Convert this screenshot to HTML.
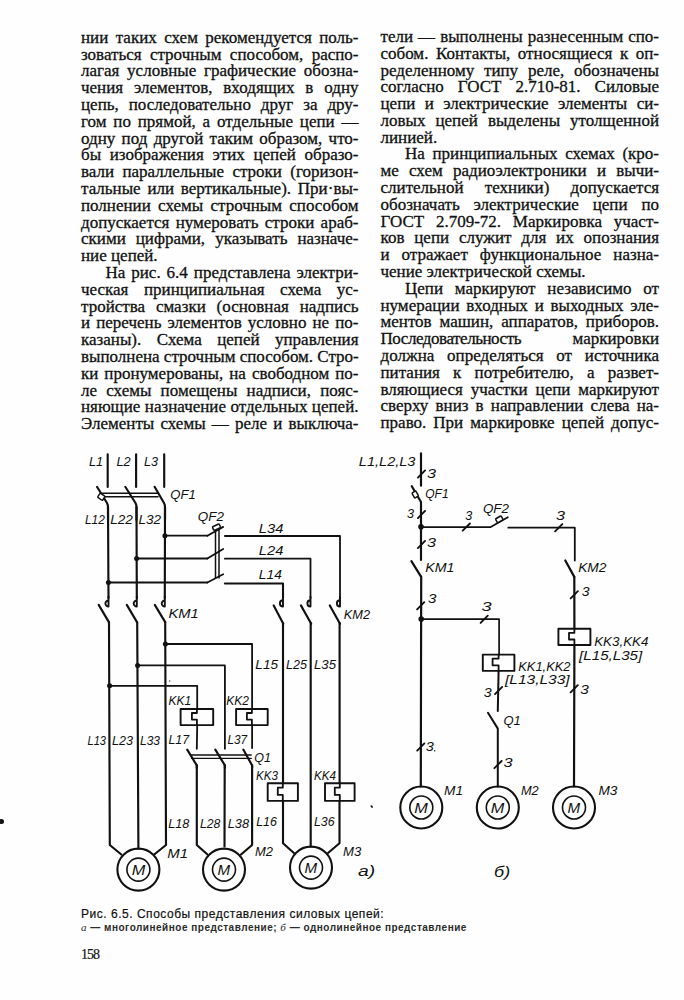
<!DOCTYPE html>
<html><head><meta charset="utf-8">
<style>
html,body{margin:0;padding:0;}
body{width:684px;height:1000px;background:#fdfefd;position:relative;overflow:hidden;color:#111;}
.ln{position:absolute;left:0;width:684px;height:16.76px;font-family:"Liberation Serif",serif;font-size:17px;line-height:19.147px;-webkit-text-stroke:0.2px #111;}
.ln span{position:absolute;top:0;white-space:nowrap;}
.jl{position:absolute;height:16.76px;font-family:"Liberation Serif",serif;font-size:17px;line-height:19.147px;white-space:nowrap;text-align:justify;text-align-last:justify;-webkit-text-stroke:0.3px #111;}
.jl.last{text-align:left;text-align-last:left;}
.cap{position:absolute;font-family:"Liberation Sans",sans-serif;white-space:nowrap;color:#111;}
svg{position:absolute;left:0;top:0;}
</style></head><body>
<div class="jl" style="top:27.75px;left:81.00px;width:277.50px;letter-spacing:0.000px">нии таких схем рекомендуется поль-</div>
<div class="jl" style="top:44.55px;left:81.00px;width:277.50px;letter-spacing:0.000px">зоваться строчным способом, распо-</div>
<div class="jl" style="top:61.35px;left:81.00px;width:277.50px;letter-spacing:0.000px">лагая условные графические обозна-</div>
<div class="jl" style="top:78.15px;left:81.00px;width:277.50px;letter-spacing:0.000px">чения элементов, входящих в одну</div>
<div class="jl" style="top:94.95px;left:81.00px;width:277.50px;letter-spacing:0.000px">цепь, последовательно друг за дру-</div>
<div class="jl" style="top:111.75px;left:81.00px;width:277.50px;letter-spacing:0.000px">гом по прямой, а отдельные цепи —</div>
<div class="jl" style="top:128.55px;left:81.00px;width:277.50px;letter-spacing:0.000px">одну под другой таким образом, что-</div>
<div class="jl" style="top:145.35px;left:81.00px;width:277.50px;letter-spacing:0.000px">бы изображения этих цепей образо-</div>
<div class="jl" style="top:162.15px;left:81.00px;width:277.50px;letter-spacing:0.000px">вали параллельные строки (горизон-</div>
<div class="jl" style="top:178.95px;left:81.00px;width:277.50px;letter-spacing:0.000px">тальные или вертикальные). При·вы-</div>
<div class="jl" style="top:195.75px;left:81.00px;width:277.50px;letter-spacing:0.000px">полнении схемы строчным способом</div>
<div class="jl" style="top:212.55px;left:81.00px;width:277.50px;letter-spacing:0.000px">допускается нумеровать строки араб-</div>
<div class="jl" style="top:229.35px;left:81.00px;width:277.50px;letter-spacing:0.000px">скими цифрами, указывать назначе-</div>
<div class="jl last" style="top:246.15px;left:81.00px;width:277.50px;letter-spacing:0.000px">ние цепей.</div>
<div class="jl" style="top:262.95px;left:105.50px;width:253.00px;letter-spacing:0.000px">На рис. 6.4 представлена электри-</div>
<div class="jl" style="top:279.75px;left:81.00px;width:277.50px;letter-spacing:0.000px">ческая принципиальная схема ус-</div>
<div class="jl" style="top:296.55px;left:81.00px;width:277.50px;letter-spacing:0.000px">тройства смазки (основная надпись</div>
<div class="jl" style="top:313.35px;left:81.00px;width:277.50px;letter-spacing:0.000px">и перечень элементов условно не по-</div>
<div class="jl" style="top:330.15px;left:81.00px;width:277.50px;letter-spacing:0.000px">казаны). Схема цепей управления</div>
<div class="jl" style="top:346.95px;left:81.00px;width:277.50px;letter-spacing:0.000px">выполнена строчным способом. Стро-</div>
<div class="jl" style="top:363.75px;left:81.00px;width:277.50px;letter-spacing:0.000px">ки пронумерованы, на свободном по-</div>
<div class="jl" style="top:380.55px;left:81.00px;width:277.50px;letter-spacing:0.000px">ле схемы помещены надписи, пояс-</div>
<div class="jl" style="top:397.35px;left:81.00px;width:277.50px;letter-spacing:0.000px">няющие назначение отдельных цепей.</div>
<div class="jl" style="top:414.15px;left:81.00px;width:277.50px;letter-spacing:0.000px">Элементы схемы — реле и выключа-</div>
<div class="jl" style="top:26.95px;left:380.50px;width:278.50px;letter-spacing:0.000px">тели — выполнены разнесенным спо-</div>
<div class="jl" style="top:43.74px;left:380.50px;width:278.50px;letter-spacing:0.000px">собом. Контакты, относящиеся к оп-</div>
<div class="jl" style="top:60.53px;left:380.50px;width:278.50px;letter-spacing:0.000px">ределенному типу реле, обозначены</div>
<div class="jl" style="top:77.32px;left:380.50px;width:278.50px;letter-spacing:0.000px">согласно ГОСТ 2.710-81. Силовые</div>
<div class="jl" style="top:94.11px;left:380.50px;width:278.50px;letter-spacing:0.000px">цепи и электрические элементы си-</div>
<div class="jl" style="top:110.90px;left:380.50px;width:278.50px;letter-spacing:0.000px">ловых цепей выделены утолщенной</div>
<div class="jl last" style="top:127.69px;left:380.50px;width:278.50px;letter-spacing:0.000px">линией.</div>
<div class="jl" style="top:144.48px;left:405.00px;width:254.00px;letter-spacing:0.000px">На принципиальных схемах (кро-</div>
<div class="jl" style="top:161.27px;left:380.50px;width:278.50px;letter-spacing:0.000px">ме схем радиоэлектроники и вычи-</div>
<div class="jl" style="top:178.06px;left:380.50px;width:278.50px;letter-spacing:0.000px">слительной техники) допускается</div>
<div class="jl" style="top:194.85px;left:380.50px;width:278.50px;letter-spacing:0.000px">обозначать электрические цепи по</div>
<div class="jl" style="top:211.64px;left:380.50px;width:278.50px;letter-spacing:0.000px">ГОСТ 2.709-72. Маркировка участ-</div>
<div class="jl" style="top:228.43px;left:380.50px;width:278.50px;letter-spacing:0.000px">ков цепи служит для их опознания</div>
<div class="jl" style="top:245.22px;left:380.50px;width:278.50px;letter-spacing:0.000px">и отражает функциональное назна-</div>
<div class="jl last" style="top:262.01px;left:380.50px;width:278.50px;letter-spacing:0.000px">чение электрической схемы.</div>
<div class="jl" style="top:278.80px;left:405.00px;width:254.00px;letter-spacing:0.000px">Цепи маркируют независимо от</div>
<div class="jl" style="top:295.59px;left:380.50px;width:278.50px;letter-spacing:0.000px">нумерации входных и выходных эле-</div>
<div class="jl" style="top:312.38px;left:380.50px;width:278.50px;letter-spacing:0.000px">ментов машин, аппаратов, приборов.</div>
<div class="jl" style="top:329.17px;left:380.50px;width:278.50px;letter-spacing:0.000px"><span style="letter-spacing:-0.45px">Последовательность</span> маркировки</div>
<div class="jl" style="top:345.96px;left:380.50px;width:278.50px;letter-spacing:0.000px">должна определяться от источника</div>
<div class="jl" style="top:362.75px;left:380.50px;width:278.50px;letter-spacing:0.000px">питания к потребителю, а развет-</div>
<div class="jl" style="top:379.54px;left:380.50px;width:278.50px;letter-spacing:0.000px">вляющиеся участки цепи маркируют</div>
<div class="jl" style="top:396.33px;left:380.50px;width:278.50px;letter-spacing:0.000px">сверху вниз в направлении слева на-</div>
<div class="jl" style="top:413.12px;left:380.50px;width:278.50px;letter-spacing:0.000px">право. При маркировке цепей допус-</div>
<svg width="684" height="1000" viewBox="0 0 684 1000" stroke="#111" stroke-linecap="round" stroke-linejoin="round" font-family="Liberation Sans, sans-serif" font-style="italic" fill="#111"><line x1="107.7" y1="454.4" x2="107.7" y2="487" stroke-width="2.15"/>
<line x1="136.1" y1="454.4" x2="136.1" y2="487" stroke-width="2.15"/>
<line x1="164.2" y1="454.4" x2="164.2" y2="487" stroke-width="2.15"/>
<text stroke="none" id="lab_L1" x="88.88" y="466.1" font-size="13" textLength="14.23" lengthAdjust="spacingAndGlyphs">L1</text>
<text stroke="none" id="lab_L2" x="116.44" y="466.1" font-size="13" textLength="14.28" lengthAdjust="spacingAndGlyphs">L2</text>
<text stroke="none" id="lab_L3" x="144.00" y="466.1" font-size="13" textLength="14.00" lengthAdjust="spacingAndGlyphs">L3</text>
<path d="M97,486.8 L107,503 Q108,505 108,507 V520" stroke-width="2.15" fill="none"/>
<path d="M125.3,486.8 L135.5,503 Q136.5,505 136.5,507 V520" stroke-width="2.15" fill="none"/>
<path d="M154.6,486.8 L164,503 Q165,505 165,507 V520" stroke-width="2.15" fill="none"/>
<line x1="101" y1="493.2" x2="158" y2="493.2" stroke-width="1.5"/>
<line x1="101" y1="496.7" x2="158" y2="496.7" stroke-width="1.5"/>
<rect x="98.30" y="494.30" width="6" height="5" rx="1" transform="rotate(35 101.3 496.8)" stroke-width="1.5" fill="#fdfefd"/>
<text stroke="none" id="lab_QF1a" x="170.22" y="499.1" font-size="13" textLength="25.47" lengthAdjust="spacingAndGlyphs">QF1</text>
<text stroke="none" id="lab_L12" x="84.94" y="523.7" font-size="13" textLength="19.90" lengthAdjust="spacingAndGlyphs">L12</text>
<text stroke="none" id="lab_L22" x="110.16" y="523.7" font-size="13" textLength="22.65" lengthAdjust="spacingAndGlyphs">L22</text>
<text stroke="none" id="lab_L32" x="138.44" y="523.7" font-size="13" textLength="22.65" lengthAdjust="spacingAndGlyphs">L32</text>
<line x1="108" y1="507" x2="108.5" y2="598" stroke-width="2.15"/>
<line x1="136.5" y1="507" x2="136.8" y2="598" stroke-width="2.15"/>
<line x1="165" y1="507" x2="164.8" y2="598" stroke-width="2.15"/>
<circle cx="164.9" cy="535.7" r="2.5" fill="#111" stroke="none"/>
<line x1="164.9" y1="535.7" x2="207.4" y2="535.7" stroke-width="1.8"/>
<line x1="207.4" y1="535.7" x2="223.2" y2="526.9" stroke-width="1.8"/>
<circle cx="136.6" cy="558.5" r="2.5" fill="#111" stroke="none"/>
<line x1="136.6" y1="558.5" x2="207.4" y2="558.5" stroke-width="1.8"/>
<line x1="207.4" y1="558.5" x2="223.2" y2="548.9" stroke-width="1.8"/>
<circle cx="108.4" cy="582.5" r="2.5" fill="#111" stroke="none"/>
<line x1="108.4" y1="582.5" x2="207.4" y2="582.5" stroke-width="1.8"/>
<line x1="207.4" y1="582.5" x2="223.2" y2="574.3" stroke-width="1.8"/>
<line x1="215.5" y1="528" x2="215.5" y2="578" stroke-width="1.5"/>
<line x1="219" y1="528" x2="219" y2="578" stroke-width="1.5"/>
<rect x="212.75" y="525.20" width="7.5" height="4" rx="1" transform="rotate(-25 216.5 527.2)" stroke-width="1.5" fill="#fdfefd"/>
<text stroke="none" id="lab_QF2a" x="197.88" y="520.8" font-size="13" textLength="26.14" lengthAdjust="spacingAndGlyphs">QF2</text>
<path d="M224.9,536 H340 V598" stroke-width="1.8" fill="none"/>
<path d="M224.9,558.7 H310.5 V598" stroke-width="1.8" fill="none"/>
<path d="M224.9,583.5 H283 V598" stroke-width="2.1" fill="none"/>
<text stroke="none" id="lab_L34" x="258.88" y="532.5" font-size="13" textLength="24.61" lengthAdjust="spacingAndGlyphs">L34</text>
<text stroke="none" id="lab_L24" x="258.88" y="554.5" font-size="13" textLength="24.61" lengthAdjust="spacingAndGlyphs">L24</text>
<text stroke="none" id="lab_L14" x="258.88" y="579" font-size="13" textLength="22.94" lengthAdjust="spacingAndGlyphs">L14</text>
<path d="M108.5,596.8 V606.5999999999999 A3.1,3.1 0 1 1 108.5,600.4" stroke-width="1.9" fill="none"/>
<path d="M136.8,596.8 V606.5999999999999 A3.1,3.1 0 1 1 136.8,600.4" stroke-width="1.9" fill="none"/>
<path d="M164.8,596.8 V606.5999999999999 A3.1,3.1 0 1 1 164.8,600.4" stroke-width="1.9" fill="none"/>
<line x1="98.7" y1="604.9" x2="108.9" y2="622.1" stroke-width="2.15"/>
<line x1="126.8" y1="604.9" x2="137" y2="622.1" stroke-width="2.15"/>
<line x1="154.8" y1="604.9" x2="165.2" y2="622.1" stroke-width="2.15"/>
<text stroke="none" id="lab_KM1a" x="168.44" y="618" font-size="13" textLength="30.40" lengthAdjust="spacingAndGlyphs">KM1</text>
<path d="M283,596.7 V606.5 A3.1,3.1 0 1 1 283,600.3000000000001" stroke-width="1.9" fill="none"/>
<path d="M310.5,596.7 V606.5 A3.1,3.1 0 1 1 310.5,600.3000000000001" stroke-width="1.9" fill="none"/>
<path d="M340,596.7 V606.5 A3.1,3.1 0 1 1 340,600.3000000000001" stroke-width="1.9" fill="none"/>
<line x1="273.7" y1="605.4" x2="283.3" y2="623.8" stroke-width="2.15"/>
<line x1="300.9" y1="605.4" x2="311.2" y2="623.8" stroke-width="2.15"/>
<line x1="329.8" y1="605.4" x2="340" y2="623.8" stroke-width="2.15"/>
<text stroke="none" id="lab_KM2a" x="343.72" y="618.5" font-size="13" textLength="26.28" lengthAdjust="spacingAndGlyphs">KM2</text>
<path d="M109,622 L109.8,845 L121.3,854.5" stroke-width="2.15" fill="none"/>
<line x1="137.2" y1="622" x2="138.4" y2="848.5" stroke-width="2.15"/>
<path d="M165.2,622 L166,845 L154.2,854.5" stroke-width="2.15" fill="none"/>
<text stroke="none" id="lab_L13" x="87.50" y="745" font-size="13" textLength="18.51" lengthAdjust="spacingAndGlyphs">L13</text>
<text stroke="none" id="lab_L23" x="112.00" y="745" font-size="13" textLength="21.00" lengthAdjust="spacingAndGlyphs">L23</text>
<text stroke="none" id="lab_L33" x="140.00" y="745" font-size="13" textLength="20.00" lengthAdjust="spacingAndGlyphs">L33</text>
<circle cx="165.4" cy="644" r="2.5" fill="#111" stroke="none"/>
<path d="M165.4,644 H252.1 V709" stroke-width="1.8" fill="none"/>
<circle cx="137.6" cy="665.4" r="2.5" fill="#111" stroke="none"/>
<path d="M137.6,665.4 H224.9 V748.8" stroke-width="1.8" fill="none"/>
<circle cx="109.6" cy="685.8" r="2.5" fill="#111" stroke="none"/>
<path d="M109.6,685.8 H197.2 V709" stroke-width="1.8" fill="none"/>
<rect x="180.6" y="709" width="32.60" height="16.10" stroke-width="1.9" fill="none"/>
<path d="M196.9,709 V713.0 H191.9 V719.6 H196.9 V725.1" stroke-width="1.8" fill="none"/>
<rect x="236.1" y="709" width="31.60" height="16.10" stroke-width="1.9" fill="none"/>
<path d="M251.9,709 V713.0 H246.9 V719.6 H251.9 V725.1" stroke-width="1.8" fill="none"/>
<line x1="197.2" y1="725.1" x2="196.8" y2="748.8" stroke-width="1.8"/>
<line x1="252.1" y1="725.1" x2="252.1" y2="748" stroke-width="1.8"/>
<text stroke="none" id="lab_KK1" x="168.44" y="704.9" font-size="13" textLength="22.65" lengthAdjust="spacingAndGlyphs">KK1</text>
<text stroke="none" id="lab_KK2" x="226.16" y="704.9" font-size="13" textLength="22.65" lengthAdjust="spacingAndGlyphs">KK2</text>
<text stroke="none" id="lab_L17" x="168.44" y="744.4" font-size="13" textLength="20.61" lengthAdjust="spacingAndGlyphs">L17</text>
<text stroke="none" id="lab_L37" x="227.50" y="744.4" font-size="13" textLength="19.68" lengthAdjust="spacingAndGlyphs">L37</text>
<text stroke="none" id="lab_L15" x="255.38" y="668.8" font-size="13" textLength="22.65" lengthAdjust="spacingAndGlyphs">L15</text>
<text stroke="none" id="lab_L25" x="286.00" y="668.8" font-size="13" textLength="21.00" lengthAdjust="spacingAndGlyphs">L25</text>
<text stroke="none" id="lab_L35" x="314.00" y="668.8" font-size="13" textLength="22.00" lengthAdjust="spacingAndGlyphs">L35</text>
<path d="M187.2,749.6 L196.8,765.4 V768" stroke-width="2.15" fill="none"/>
<path d="M215.3,749.6 L224.9,765.4 V768" stroke-width="2.15" fill="none"/>
<path d="M243.3,749.6 L252.1,765.4 V768" stroke-width="2.15" fill="none"/>
<line x1="191.6" y1="755" x2="251.2" y2="755" stroke-width="1.4"/>
<line x1="191.6" y1="758.4" x2="251.2" y2="758.4" stroke-width="1.4"/>
<text stroke="none" id="lab_Q1a" x="254.16" y="761.9" font-size="13" textLength="16.67" lengthAdjust="spacingAndGlyphs">Q1</text>
<path d="M196.8,765 V845 L207.5,854.5" stroke-width="2.15" fill="none"/>
<line x1="224.7" y1="765" x2="224.5" y2="846.5" stroke-width="2.15"/>
<path d="M252.1,765 V845 L241,854.5" stroke-width="2.15" fill="none"/>
<text stroke="none" id="lab_L28" x="200.00" y="828.2" font-size="13" textLength="20.44" lengthAdjust="spacingAndGlyphs">L28</text>
<text stroke="none" id="lab_L38" x="227.72" y="828.2" font-size="13" textLength="21.28" lengthAdjust="spacingAndGlyphs">L38</text>
<text stroke="none" id="lab_L16" x="256.16" y="825.8" font-size="13" textLength="20.73" lengthAdjust="spacingAndGlyphs">L16</text>
<line x1="283" y1="623" x2="283" y2="783.3" stroke-width="2.15"/>
<line x1="310.7" y1="623" x2="310.7" y2="846.5" stroke-width="2.15"/>
<line x1="339.6" y1="623" x2="339.6" y2="783.3" stroke-width="2.15"/>
<rect x="267.7" y="783.3" width="30.20" height="17.60" stroke-width="1.9" fill="none"/>
<path d="M282.8,783.3 V787.7 H277.8 V794.9 H282.8 V800.9" stroke-width="1.8" fill="none"/>
<rect x="325.0" y="783.3" width="29.60" height="17.60" stroke-width="1.9" fill="none"/>
<path d="M339.8,783.3 V787.7 H334.8 V794.9 H339.8 V800.9" stroke-width="1.8" fill="none"/>
<path d="M283,800.9 V843.3 L293.9,853" stroke-width="2.15" fill="none"/>
<path d="M339.5,800.9 V843.3 L328,853" stroke-width="2.15" fill="none"/>
<text stroke="none" id="lab_KK3" x="256.00" y="779.6" font-size="13" textLength="22.00" lengthAdjust="spacingAndGlyphs">KK3</text>
<text stroke="none" id="lab_KK4" x="314.00" y="779.6" font-size="13" textLength="22.00" lengthAdjust="spacingAndGlyphs">KK4</text>
<text stroke="none" id="lab_L36" x="314.00" y="825.8" font-size="13" textLength="20.57" lengthAdjust="spacingAndGlyphs">L36</text>
<text stroke="none" id="lab_L18" x="168.16" y="828.2" font-size="13" textLength="21.00" lengthAdjust="spacingAndGlyphs">L18</text>
<circle cx="138.4" cy="869.6" r="21" stroke-width="2.1" fill="none"/>
<circle cx="138.4" cy="869.6" r="11.5" stroke-width="1.6" fill="none"/>
<text stroke="none" id="lab_Ma1" x="131.65" y="875.0" font-size="14" textLength="13.57" lengthAdjust="spacingAndGlyphs">M</text>
<circle cx="224" cy="869.6" r="21" stroke-width="2.1" fill="none"/>
<circle cx="224" cy="869.6" r="11.5" stroke-width="1.6" fill="none"/>
<text stroke="none" id="lab_Ma2" x="217.43" y="875.0" font-size="14" textLength="12.62" lengthAdjust="spacingAndGlyphs">M</text>
<circle cx="311" cy="867.6" r="21" stroke-width="2.1" fill="none"/>
<circle cx="311" cy="867.6" r="11.5" stroke-width="1.6" fill="none"/>
<text stroke="none" id="lab_Ma3" x="304.43" y="873.0" font-size="14" textLength="12.62" lengthAdjust="spacingAndGlyphs">M</text>
<text stroke="none" id="lab_M1a" x="167.22" y="858.4" font-size="13" textLength="20.78" lengthAdjust="spacingAndGlyphs">M1</text>
<text stroke="none" id="lab_M2a" x="255.00" y="855.6" font-size="13" textLength="18.00" lengthAdjust="spacingAndGlyphs">M2</text>
<text stroke="none" id="lab_M3a" x="343.00" y="855.6" font-size="13" textLength="18.23" lengthAdjust="spacingAndGlyphs">M3</text>
<text stroke="none" id="lab_a" x="358.00" y="875.5" font-size="14" textLength="17.15" lengthAdjust="spacingAndGlyphs">a)</text>
<line x1="421" y1="453.4" x2="421" y2="485.7" stroke-width="2.2"/>
<text stroke="none" id="lab_L123" x="358.88" y="465.7" font-size="13" textLength="56.56" lengthAdjust="spacingAndGlyphs">L1,L2,L3</text>
<line x1="417.9" y1="477.6" x2="425.1" y2="470.4" stroke-width="1.9"/>
<text stroke="none" id="lab_t1" x="427.10" y="477.5" font-size="13" textLength="9.02" lengthAdjust="spacingAndGlyphs">3</text>
<path d="M411.8,486.2 L421,502 V560" stroke-width="2.2" fill="none"/>
<rect x="412.95" y="491.50" width="4.5" height="6" rx="1" transform="rotate(-30 415.2 494.5)" stroke-width="1.5" fill="#fdfefd"/>
<text stroke="none" id="lab_QF1b" x="425.22" y="497.6" font-size="13" textLength="23.36" lengthAdjust="spacingAndGlyphs">QF1</text>
<line x1="417.9" y1="518.1" x2="425.1" y2="510.9" stroke-width="1.9"/>
<text stroke="none" id="lab_t2" x="407.00" y="517.8" font-size="13" textLength="7.00" lengthAdjust="spacingAndGlyphs">3</text>
<circle cx="421" cy="526.8" r="2.8" fill="#111" stroke="none"/>
<path d="M421,527.2 H490.3 L507.8,517.2" stroke-width="1.8" fill="none"/>
<rect x="496.05" y="517.05" width="6.5" height="4.5" rx="1" transform="rotate(-30 499.3 519.3)" stroke-width="1.5" fill="#fdfefd"/>
<line x1="462.7" y1="530.7" x2="469.90000000000003" y2="523.5" stroke-width="1.9"/>
<text stroke="none" id="lab_t3" x="465.16" y="519.6" font-size="13" textLength="7.00" lengthAdjust="spacingAndGlyphs">3</text>
<text stroke="none" id="lab_QF2b" x="482.94" y="512.5" font-size="13" textLength="26.07" lengthAdjust="spacingAndGlyphs">QF2</text>
<path d="M508.3,527.7 H574.8 V560.5" stroke-width="1.8" fill="none"/>
<line x1="555.1" y1="531.3000000000001" x2="562.3000000000001" y2="524.1" stroke-width="1.9"/>
<text stroke="none" id="lab_t4" x="556.10" y="519.6" font-size="13" textLength="9.02" lengthAdjust="spacingAndGlyphs">3</text>
<line x1="417.9" y1="548.1" x2="425.1" y2="540.9" stroke-width="1.9"/>
<text stroke="none" id="lab_t5" x="427.10" y="546.8" font-size="13" textLength="9.02" lengthAdjust="spacingAndGlyphs">3</text>
<line x1="411.4" y1="561.1" x2="421" y2="576.6" stroke-width="2.2"/>
<text stroke="none" id="lab_KM1b" x="425.22" y="572.2" font-size="13" textLength="29.22" lengthAdjust="spacingAndGlyphs">KM1</text>
<line x1="565.3" y1="560.5" x2="574.3" y2="576.9" stroke-width="2.2"/>
<text stroke="none" id="lab_KM2b" x="578.16" y="572.2" font-size="13" textLength="28.28" lengthAdjust="spacingAndGlyphs">KM2</text>
<line x1="421.2" y1="576.6" x2="420.8" y2="786.5" stroke-width="2.2"/>
<line x1="417.09999999999997" y1="609.4" x2="424.3" y2="602.1999999999999" stroke-width="1.9"/>
<text stroke="none" id="lab_t6" x="428.10" y="603.3" font-size="13" textLength="8.40" lengthAdjust="spacingAndGlyphs">3</text>
<circle cx="421.2" cy="619.1" r="2.8" fill="#111" stroke="none"/>
<path d="M421.2,619.1 H499.1 V654.6" stroke-width="1.7" fill="none"/>
<line x1="480.59999999999997" y1="622.9" x2="487.8" y2="615.6999999999999" stroke-width="1.9"/>
<text stroke="none" id="lab_t7" x="481.60" y="611.2" font-size="13" textLength="10.12" lengthAdjust="spacingAndGlyphs">3</text>
<rect x="482.8" y="654.6" width="31.60" height="16.30" stroke-width="1.9" fill="none"/>
<path d="M498.6,654.6 V658.7 H492.6 V665.4 H498.6 V670.9" stroke-width="1.8" fill="none"/>
<line x1="498.6" y1="670.9" x2="497.8" y2="711" stroke-width="2.0"/>
<line x1="495.0" y1="694.1" x2="502.20000000000005" y2="686.9" stroke-width="1.9"/>
<text stroke="none" id="lab_t8" x="483.72" y="697.2" font-size="13" textLength="7.87" lengthAdjust="spacingAndGlyphs">3</text>
<text stroke="none" id="lab_KK12" x="518.16" y="671.2" font-size="13" textLength="52.41" lengthAdjust="spacingAndGlyphs">KK1,KK2</text>
<text stroke="none" id="lab_L1333" x="505.06" y="684.1" font-size="13" textLength="64.62" lengthAdjust="spacingAndGlyphs">[L13,L33]</text>
<path d="M488,712.8 L497.8,728.6 V786.5" stroke-width="2.0" fill="none"/>
<text stroke="none" id="lab_Q1b" x="503.44" y="725" font-size="13" textLength="17.35" lengthAdjust="spacingAndGlyphs">Q1</text>
<line x1="494.4" y1="768.2" x2="501.6" y2="761.0" stroke-width="1.9"/>
<text stroke="none" id="lab_t9" x="503.44" y="767.2" font-size="13" textLength="9.10" lengthAdjust="spacingAndGlyphs">3</text>
<line x1="417.2" y1="750.6" x2="424.40000000000003" y2="743.4" stroke-width="1.9"/>
<text stroke="none" id="lab_t10" x="425.88" y="751.4" font-size="13" textLength="8.04" lengthAdjust="spacingAndGlyphs">3</text>
<line x1="574.3" y1="576.9" x2="574.4" y2="628.7" stroke-width="2.2"/>
<line x1="574.4" y1="645" x2="574" y2="786.5" stroke-width="2.2"/>
<line x1="570.6999999999999" y1="598.4" x2="577.9" y2="591.1999999999999" stroke-width="1.9"/>
<text stroke="none" id="lab_t11" x="581.66" y="595.6" font-size="13" textLength="7.81" lengthAdjust="spacingAndGlyphs">3</text>
<rect x="558.4" y="628.7" width="32.00" height="16.30" stroke-width="1.9" fill="none"/>
<path d="M574.4,628.7 V632.8 H569.0 V639.5 H574.4 V645" stroke-width="1.8" fill="none"/>
<line x1="570.6" y1="692.4" x2="577.8000000000001" y2="685.1999999999999" stroke-width="1.9"/>
<text stroke="none" id="lab_t12" x="580.16" y="693.5" font-size="13" textLength="8.57" lengthAdjust="spacingAndGlyphs">3</text>
<text stroke="none" id="lab_KK34" x="594.16" y="645.5" font-size="13" textLength="54.35" lengthAdjust="spacingAndGlyphs">KK3,KK4</text>
<text stroke="none" id="lab_L1535" x="579.12" y="659.5" font-size="13" textLength="63.06" lengthAdjust="spacingAndGlyphs">[L15,L35]</text>
<circle cx="421.3" cy="807.5" r="21" stroke-width="2.1" fill="none"/>
<circle cx="421.3" cy="807.5" r="11.5" stroke-width="1.6" fill="none"/>
<text stroke="none" id="lab_Mb1" x="414.37" y="812.9" font-size="14" textLength="13.57" lengthAdjust="spacingAndGlyphs">M</text>
<circle cx="497.8" cy="807.5" r="21" stroke-width="2.1" fill="none"/>
<circle cx="497.8" cy="807.5" r="11.5" stroke-width="1.6" fill="none"/>
<text stroke="none" id="lab_Mb2" x="490.87" y="812.9" font-size="14" textLength="13.57" lengthAdjust="spacingAndGlyphs">M</text>
<circle cx="574" cy="807.5" r="21" stroke-width="2.1" fill="none"/>
<circle cx="574" cy="807.5" r="11.5" stroke-width="1.6" fill="none"/>
<text stroke="none" id="lab_Mb3" x="567.43" y="812.9" font-size="14" textLength="12.62" lengthAdjust="spacingAndGlyphs">M</text>
<text stroke="none" id="lab_M1b" x="444.00" y="795.3" font-size="13" textLength="19.03" lengthAdjust="spacingAndGlyphs">M1</text>
<text stroke="none" id="lab_M2b" x="520.94" y="795.3" font-size="13" textLength="17.79" lengthAdjust="spacingAndGlyphs">M2</text>
<text stroke="none" id="lab_M3b" x="598.50" y="795.3" font-size="13" textLength="18.96" lengthAdjust="spacingAndGlyphs">M3</text>
<text stroke="none" id="lab_b" x="494.10" y="877" font-size="14" textLength="16.08" lengthAdjust="spacingAndGlyphs">б)</text>
<ellipse cx="371.7" cy="806.5" rx="1.5" ry="0.9" transform="rotate(40 371.7 806.5)" fill="#111" stroke="none"/>
<circle cx="169.7" cy="681" r="0.7" fill="#333" stroke="none"/>
<circle cx="434.6" cy="750.8" r="0.8" fill="#222" stroke="none"/></svg>
<div class="cap" style="left:81px;top:906.6px;font-size:12px;line-height:14px;letter-spacing:0.52px;-webkit-text-stroke:0.2px #111;">Рис. 6.5. Способы представления силовых цепей:</div>
<div class="cap" style="left:81px;top:920.5px;font-size:10px;line-height:12px;font-weight:bold;letter-spacing:0.5px;color:#2a2a2a;"><i style="font-family:'Liberation Serif',serif;font-weight:normal;font-size:11px">а</i> — многолинейное представление; <i style="font-family:'Liberation Serif',serif;font-weight:normal;font-size:11px">б</i> — однолинейное представление</div>
<div class="cap" style="left:81px;top:946.5px;font-family:'Liberation Serif',serif;font-size:14px;line-height:16px;letter-spacing:-0.95px;-webkit-text-stroke:0.2px #111;">158</div>
<div style="position:absolute;left:-1px;top:819px;width:5px;height:5px;border-radius:50%;background:#111"></div>
</body></html>
